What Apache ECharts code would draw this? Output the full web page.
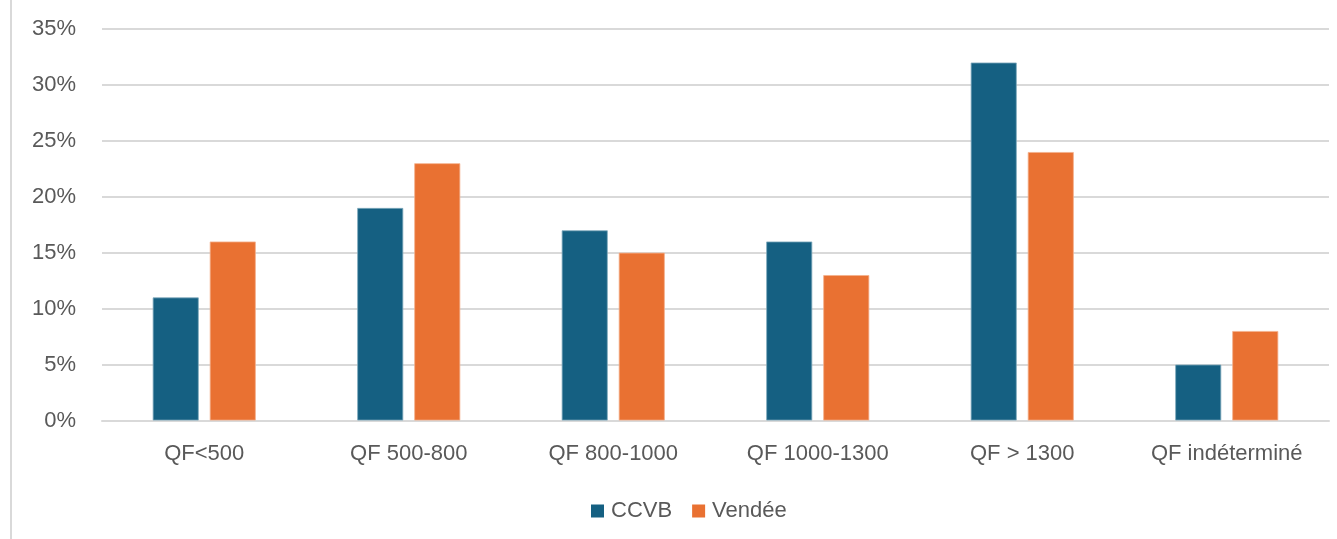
<!DOCTYPE html>
<html><head><meta charset="utf-8">
<script src="https://cdn.jsdelivr.net/npm/echarts@6/dist/echarts.min.js"></script>
<style>html,body{margin:0;padding:0;background:#fff}#c{width:1337px;height:539px}</style>
</head><body><div id="c"></div>
<script>
const categories = ['QF<500','QF 500-800','QF 800-1000','QF 1000-1300','QF > 1300','QF indéterminé'];
const ccvb = [11,19,17,16,32,5];
const vendee = [16,23,15,13,24,8];
const yTicks = [0,5,10,15,20,25,30,35];

const chart = echarts.init(document.getElementById('c'), null, {renderer:'canvas'});
const font = 'Liberation Sans, Arial, sans-serif';
chart.setOption({
  animation:false,
  backgroundColor:'#fff',
  grid:{left:102, right:8, top:29, bottom:118.5, containLabel:false},
  legend:{
    data:['CCVB','Vendée'], top:500, left:591, padding:0,
    itemWidth:13, itemHeight:13, itemGap:20, icon:'rect',
    itemStyle:{borderWidth:0},
    textStyle:{color:'#595959', fontSize:22, fontFamily:font, padding:[0,0,0,2]}
  },
  xAxis:{
    type:'category', data:categories,
    axisLine:{lineStyle:{color:'#d9d9d9', width:2}},
    axisTick:{show:false},
    axisLabel:{color:'#595959', fontSize:22, fontFamily:font, margin:22}
  },
  yAxis:{
    type:'value', min:yTicks[0], max:yTicks[yTicks.length-1], interval:5,
    axisLine:{show:false}, axisTick:{show:false},
    splitLine:{lineStyle:{color:'#d9d9d9', width:2}},
    axisLabel:{color:'#595959', fontSize:22, fontFamily:font, margin:26, formatter:v=>v+'%'}
  },
  series:[
    {name:'CCVB', type:'bar', data:ccvb, barWidth:46, barGap:'24%',
     itemStyle:{color:'#156082', borderColor:'#7fa9bd', borderWidth:0.8}},
    {name:'Vendée', type:'bar', data:vendee, barWidth:46,
     itemStyle:{color:'#E97132', borderColor:'#f4b08c', borderWidth:0.8}}
  ],
  graphic:[{type:'rect', shape:{x:10, y:0, width:2, height:539}, style:{fill:'#d9d9d9'}}]
});
</script></body></html>
